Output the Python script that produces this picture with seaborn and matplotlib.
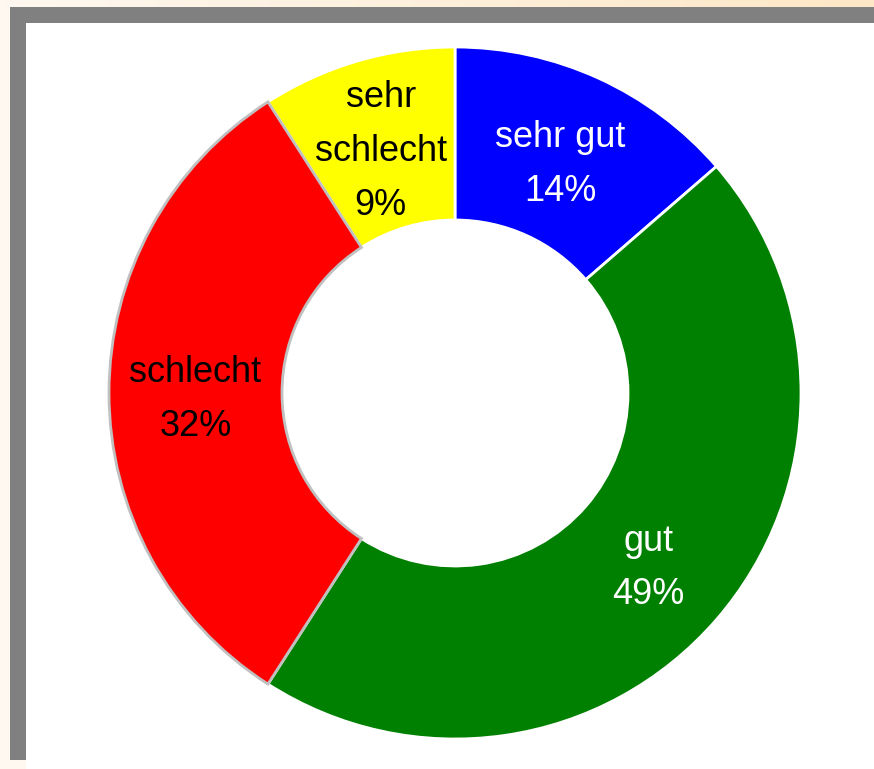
import numpy as np
import matplotlib
matplotlib.use("Agg")
import matplotlib.pyplot as plt
import seaborn as sns
from matplotlib.patches import Rectangle

# Chart data (drawn angles match 15/50/35/10, labels as printed on the chart)
categories = ["sehr gut", "gut", "schlecht", "sehr\nschlecht"]
values = [15, 50, 35, 10]
pct_labels = ["14%", "49%", "32%", "9%"]
colors = ["#0000ff", "#008000", "#ff0000", "#ffff00"]
text_colors = ["white", "white", "black", "black"]

sns.set_theme(style="white")
plt.rcParams["font.family"] = ["Liberation Sans", "DejaVu Sans"]

W, H = 874, 769
fig = plt.figure(figsize=(W / 100, H / 100), dpi=100)
fig.patch.set_facecolor("#fef8f0")

# background: gradient strip on top, grey frame, white panel
bg = fig.add_axes([0, 0, 1, 1], zorder=-10)
bg.set_axis_off()
grad = np.linspace(0, 1, 256)[None, :]
bg.imshow(grad, extent=(0, W, 7, 0), aspect="auto",
          cmap=matplotlib.colors.LinearSegmentedColormap.from_list("g", ["#fef8f0", "#fde7c6"]))
bg.add_patch(Rectangle((0, 7), 10, H, color="#fef8f0", lw=0))
bg.add_patch(Rectangle((10, 7), W - 10, 753, color="#808080", lw=0))
bg.add_patch(Rectangle((26, 23), W - 26, H - 23, color="white", lw=0))
bg.set_xlim(0, W)
bg.set_ylim(H, 0)

# donut axes
cx, cy, r = 455, 393, 346
ax = fig.add_axes([(cx - r) / W, (H - cy - r) / H, 2 * r / W, 2 * r / H])
ax.set_axis_off()
wedges, _ = ax.pie(values, colors=colors, startangle=90, counterclock=False,
                   radius=1, wedgeprops=dict(width=0.5, edgecolor="white", linewidth=2))
wedges[2].set_edgecolor("#c0c0c0")
wedges[2].set_zorder(3)
ax.set_xlim(-1, 1)
ax.set_ylim(-1, 1)
ax.set_aspect("equal")

for w, cat, pct, tc in zip(wedges, categories, pct_labels, text_colors):
    ang = np.deg2rad((w.theta1 + w.theta2) / 2)
    rr = 0.745
    ax.text(rr * np.cos(ang) - 0.005, rr * np.sin(ang) - 0.018, cat + "\n" + pct,
            ha="center", va="center", fontsize=26, color=tc,
            linespacing=1.7, zorder=5)

fig.savefig("out.png", dpi=100)
